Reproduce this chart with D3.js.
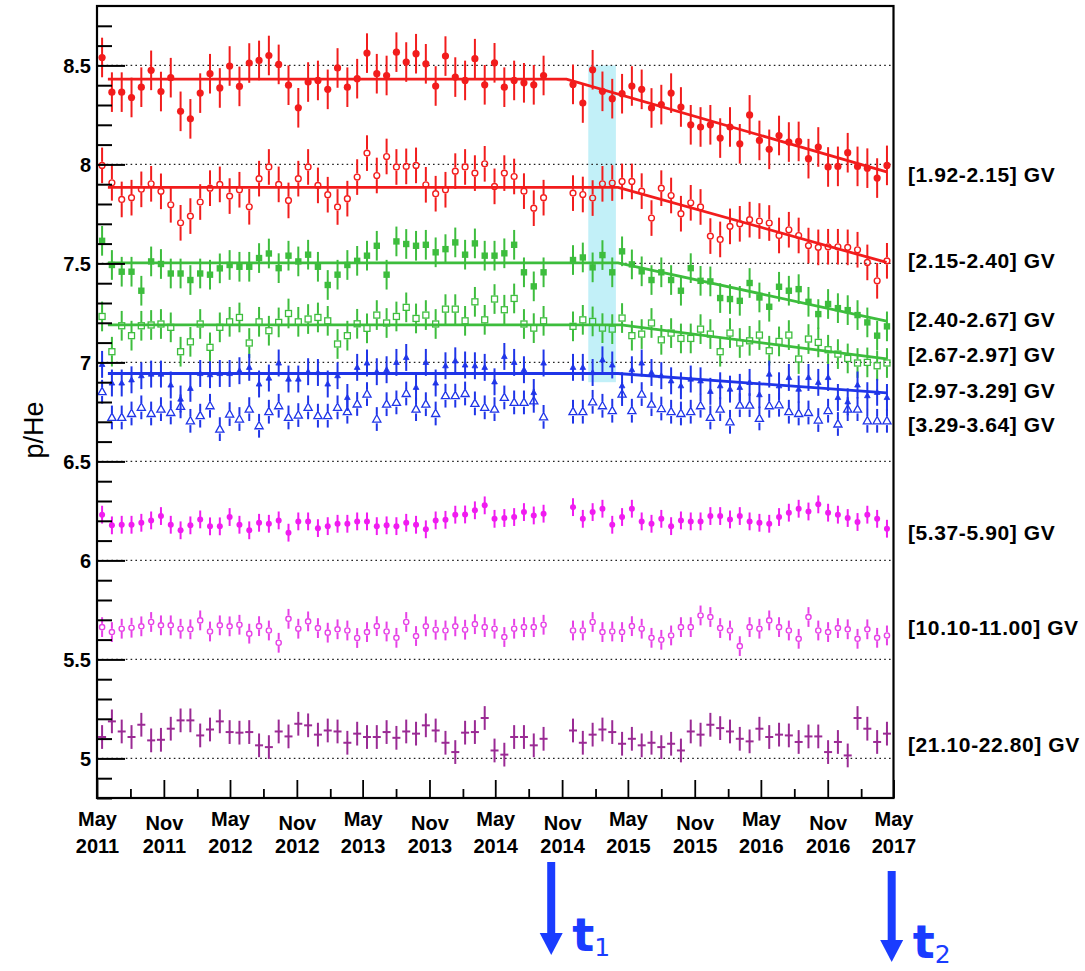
<!DOCTYPE html>
<html><head><meta charset="utf-8">
<script src="https://cdn.jsdelivr.net/npm/d3@7"></script>
<style>body{margin:0;background:#fff}svg{display:block}</style>
</head><body>
<svg id="chart" width="1085" height="971"></svg>
<script>
// ---------- DATA ----------
// Bartels rotations (BR 2472 and 2473 missing)
const rotations = [2426,2427,2428,2429,2430,2431,2432,2433,2434,2435,2436,2437,2438,2439,2440,2441,2442,2443,2444,2445,2446,2447,2448,2449,2450,2451,2452,2453,2454,2455,2456,2457,2458,2459,2460,2461,2462,2463,2464,2465,2466,2467,2468,2469,2470,2471,
2474,2475,2476,2477,2478,2479,2480,2481,2482,2483,2484,2485,2486,2487,2488,2489,2490,2491,2492,2493,2494,2495,2496,2497,2498,2499,2500,2501,2502,2503,2504,2505,2506];

const red1 = [8.54,8.365,8.365,8.338,8.39,8.475,8.368,8.438,8.268,8.23,8.36,8.458,8.386,8.497,8.394,8.512,8.525,8.55,8.505,8.40,8.286,8.416,8.424,8.379,8.487,8.39,8.433,8.562,8.458,8.449,8.567,8.517,8.559,8.508,8.396,8.547,8.441,8.424,8.534,8.402,8.513,8.39,8.424,8.412,8.402,8.449,
8.404,8.31,8.478,8.369,8.332,8.357,8.396,8.379,8.285,8.302,8.36,8.29,8.2,8.189,8.2,8.133,8.189,8.104,8.25,8.121,8.076,8.146,8.113,8.116,8.029,8.088,7.987,7.99,8.059,7.99,7.981,7.931,7.995];
const red2 = [7.995,7.907,7.823,7.832,7.874,7.902,7.864,7.796,7.705,7.739,7.81,7.88,7.899,7.84,7.872,7.786,7.928,7.987,7.899,7.818,7.928,7.987,7.894,7.847,7.785,7.827,7.936,8.057,7.944,8.04,7.987,7.99,7.995,7.897,7.852,7.872,7.966,7.987,7.956,8.003,7.889,7.956,7.939,7.865,7.779,7.832,
7.855,7.848,7.83,7.902,7.906,7.914,7.914,7.865,7.729,7.88,7.843,7.751,7.806,7.785,7.638,7.621,7.687,7.7,7.721,7.714,7.704,7.641,7.67,7.641,7.59,7.581,7.584,7.584,7.581,7.569,7.505,7.412,7.513];
const green1 = [7.614,7.492,7.458,7.458,7.362,7.51,7.497,7.449,7.449,7.416,7.449,7.443,7.475,7.492,7.483,7.483,7.527,7.55,7.476,7.539,7.51,7.544,7.483,7.391,7.443,7.492,7.513,7.539,7.589,7.443,7.611,7.598,7.589,7.594,7.556,7.572,7.606,7.544,7.601,7.539,7.539,7.551,7.594,7.455,7.384,7.455,
7.517,7.53,7.48,7.542,7.455,7.561,7.495,7.46,7.416,7.455,7.416,7.362,7.476,7.412,7.409,7.325,7.32,7.311,7.401,7.328,7.281,7.382,7.362,7.37,7.306,7.244,7.295,7.274,7.264,7.239,7.202,7.135,7.182];
const green2 = [7.232,7.054,7.185,7.135,7.185,7.189,7.194,7.177,7.054,7.104,7.194,7.076,7.177,7.205,7.227,7.098,7.205,7.16,7.202,7.247,7.205,7.219,7.227,7.21,7.093,7.135,7.195,7.172,7.239,7.199,7.232,7.278,7.222,7.239,7.194,7.269,7.269,7.21,7.306,7.215,7.32,7.266,7.323,7.194,7.173,7.21,
7.182,7.215,7.207,7.173,7.168,7.224,7.135,7.143,7.199,7.114,7.148,7.121,7.121,7.168,7.143,7.054,7.148,7.098,7.109,7.138,7.059,7.106,7.138,7.017,7.118,7.101,7.064,7.042,7.02,6.997,7.0,6.983,6.997];
const blue1 = [6.99,6.896,6.896,6.912,6.933,6.941,6.941,6.886,6.815,6.869,6.944,6.938,6.944,6.944,6.958,6.975,6.891,6.921,6.997,6.916,6.916,6.953,6.949,6.891,6.933,6.823,6.975,6.997,6.953,6.963,7.0,7.025,6.874,7.0,6.896,6.983,7.008,6.987,6.983,6.975,6.902,7.03,7.0,6.963,6.848,6.997,
6.975,6.975,6.949,7.013,6.987,6.882,6.963,6.997,6.949,6.933,6.907,6.882,6.916,6.907,6.854,6.882,6.865,6.874,6.899,6.837,6.941,6.882,6.924,6.865,6.924,6.899,6.924,6.823,6.801,6.886,6.832,6.849,6.823];
const blue2 = [6.852,6.722,6.722,6.742,6.773,6.742,6.764,6.747,6.778,6.705,6.731,6.781,6.663,6.739,6.714,6.764,6.68,6.751,6.781,6.722,6.734,6.773,6.731,6.731,6.773,6.751,6.79,6.84,6.714,6.789,6.798,6.843,6.764,6.789,6.742,6.832,6.832,6.843,6.793,6.773,6.764,6.823,6.798,6.798,6.806,6.725,
6.751,6.751,6.801,6.781,6.756,6.84,6.756,6.84,6.789,6.767,6.751,6.742,6.751,6.781,6.722,6.764,6.7,6.784,6.784,6.717,6.781,6.786,6.751,6.742,6.747,6.709,6.756,6.689,6.764,6.764,6.705,6.705,6.705];
const magenta1 = [6.231,6.177,6.18,6.18,6.19,6.202,6.224,6.18,6.152,6.177,6.207,6.172,6.172,6.219,6.18,6.152,6.19,6.185,6.202,6.14,6.197,6.197,6.163,6.173,6.185,6.185,6.197,6.197,6.173,6.177,6.173,6.19,6.18,6.157,6.202,6.205,6.231,6.232,6.253,6.278,6.21,6.214,6.219,6.244,6.227,6.236,
6.269,6.21,6.244,6.261,6.18,6.219,6.261,6.197,6.185,6.21,6.173,6.202,6.197,6.197,6.224,6.224,6.207,6.224,6.197,6.19,6.185,6.219,6.241,6.261,6.247,6.283,6.241,6.231,6.214,6.194,6.231,6.21,6.16];
const magenta2 = [5.663,5.638,5.655,5.66,5.667,5.689,5.672,5.672,5.655,5.652,5.697,5.641,5.672,5.667,5.675,5.63,5.668,5.646,5.584,5.705,5.655,5.692,5.658,5.635,5.652,5.646,5.608,5.638,5.668,5.641,5.609,5.689,5.618,5.667,5.65,5.646,5.667,5.65,5.678,5.663,5.655,5.613,5.655,5.663,5.663,5.675,
5.646,5.646,5.689,5.638,5.641,5.638,5.668,5.655,5.609,5.599,5.621,5.663,5.663,5.722,5.714,5.658,5.646,5.567,5.663,5.655,5.697,5.663,5.646,5.604,5.714,5.646,5.638,5.658,5.652,5.604,5.652,5.609,5.621];
const magenta3 = [5.108,5.187,5.136,5.108,5.17,5.091,5.094,5.15,5.192,5.192,5.116,5.146,5.187,5.133,5.13,5.133,5.066,5.057,5.136,5.111,5.175,5.167,5.12,5.141,5.136,5.079,5.125,5.108,5.108,5.133,5.104,5.136,5.125,5.167,5.141,5.079,5.032,5.13,5.133,5.204,5.04,5.019,5.108,5.108,5.066,5.099,
5.141,5.079,5.12,5.146,5.133,5.074,5.099,5.066,5.079,5.057,5.074,5.04,5.136,5.12,5.17,5.153,5.136,5.099,5.086,5.15,5.108,5.12,5.116,5.083,5.111,5.111,5.032,5.083,5.015,5.204,5.15,5.083,5.125];

// typical error (half length) of each series
const errors = [0.10, 0.09, 0.075, 0.075, 0.068, 0.06, 0.045, 0.05, 0.06];
const binLabels = ["[1.92-2.15] GV","[2.15-2.40] GV","[2.40-2.67] GV","[2.67-2.97] GV","[2.97-3.29] GV","[3.29-3.64] GV","[5.37-5.90] GV","[10.10-11.00] GV","[21.10-22.80] GV"];
const labelLevel = [7.951, 7.513, 7.219, 7.042, 6.857, 6.688, 6.141, 5.662, 5.072];

// fit: [plateau value, break date, value at fit end]
const fits = [
  [8.431, "2014-11-13", 7.962],
  [7.884, "2015-04-04", 7.505],
  [7.503, "2015-04-04", 7.208],
  [7.190, "2015-04-12", 7.018],
  [6.944, "2015-04-04", 6.846],
  null, null, null, null
];
const fitStart = "2011-05-31", fitEnd = "2017-04-12";

const yTicks = [5, 5.5, 6, 6.5, 7, 7.5, 8, 8.5];
const xTickDates = ["2011-05-01","2011-11-01","2012-05-01","2012-11-01","2013-05-01","2013-11-01","2014-05-01","2014-11-01","2015-05-01","2015-11-01","2016-05-01","2016-11-01","2017-05-01"];
const xMinorDates = ["2011-08-01","2012-02-01","2012-08-01","2013-02-01","2013-08-01","2014-02-01","2014-08-01","2015-02-01","2015-08-01","2016-02-01","2016-08-01","2017-02-01"];
const band = {from:"2015-01-12", to:"2015-03-29", low:6.9, high:8.5};
const marks = [{date:"2014-10-02", label:"t", sub:"1"}, {date:"2017-04-26", label:"t", sub:"2"}];

// ---------- STYLE ----------
const styles = [
  {color:"#f21c1c", shape:"circle", filled:true, size:3.6},
  {color:"#f21c1c", shape:"circle", filled:false, size:3.6},
  {color:"#3dbd3d", shape:"square", filled:true, size:3.2},
  {color:"#3dbd3d", shape:"square", filled:false, size:3.6},
  {color:"#1f35e8", shape:"triangle", filled:true, size:3.0},
  {color:"#1f35e8", shape:"triangle", filled:false, size:4.3},
  {color:"#f01cf0", shape:"circle", filled:true, size:3.0},
  {color:"#e641e6", shape:"circle", filled:false, size:3.3},
  {color:"#9a2a94", shape:"plus", filled:true, size:4}
];

const parse = s => new Date(s + "T00:00:00Z");
const brDate = n => new Date(Date.UTC(2011, 4, 15) + (n - 2426) * 27 * 86400000);

const svg = d3.select("#chart");
svg.append("rect").attr("width",1085).attr("height",971).attr("fill","#fff");

const L = 97, R = 893.5, T = 6, B = 798;
const x = d3.scaleUtc().domain([parse("2011-05-01"), parse("2017-05-01")]).range([L, R]);
const y = d3.scaleLinear().domain([4.8, 8.8]).range([B, T]);

const FONT = "'Liberation Sans', Arial, Helvetica, sans-serif";

// band
svg.append("rect")
  .attr("x", x(parse(band.from))).attr("width", x(parse(band.to)) - x(parse(band.from)))
  .attr("y", y(band.high)).attr("height", y(band.low) - y(band.high))
  .attr("fill", "#c2f0f8");

// dotted grid
svg.append("g").selectAll("line").data(yTicks).join("line")
  .attr("x1", L).attr("x2", R).attr("y1", d => y(d)).attr("y2", d => y(d))
  .attr("stroke", "#222").attr("stroke-width", 1.2).attr("stroke-dasharray", "1.6,3.2");

// series
const allSeries = [red1, red2, green1, green2, blue1, blue2, magenta1, magenta2, magenta3];
allSeries.forEach((vals, si) => {
  const st = styles[si];
  const g = svg.append("g");
  const pts = vals.map((v, i) => ({x: x(brDate(rotations[i])), y: y(v), lo: y(v - errors[si]), hi: y(v + errors[si])}));
  const gap = st.filled ? 0 : st.size;
  g.selectAll("line.e1").data(pts).join("line")
    .attr("x1", d => d.x).attr("x2", d => d.x)
    .attr("y1", d => d.hi).attr("y2", d => d.y - gap)
    .attr("stroke", st.color).attr("stroke-width", 2);
  g.selectAll("line.e2").data(pts).join("line")
    .attr("x1", d => d.x).attr("x2", d => d.x)
    .attr("y1", d => d.y + gap).attr("y2", d => d.lo)
    .attr("stroke", st.color).attr("stroke-width", 2);
  const fill = st.filled ? st.color : "none";
  if (st.shape === "circle") {
    g.selectAll("circle").data(pts).join("circle")
      .attr("cx", d => d.x).attr("cy", d => d.y).attr("r", st.filled ? st.size : st.size - 0.7)
      .attr("fill", fill).attr("stroke", st.filled ? "none" : st.color).attr("stroke-width", 1.4);
  } else if (st.shape === "square") {
    const s = st.size;
    g.selectAll("rect").data(pts).join("rect")
      .attr("x", d => d.x - s + (st.filled?0:0.6)).attr("y", d => d.y - s + (st.filled?0:0.6))
      .attr("width", st.filled ? 2*s : 2*s - 1.2).attr("height", st.filled ? 2*s : 2*s - 1.2)
      .attr("fill", fill).attr("stroke", st.filled ? "none" : st.color).attr("stroke-width", 1.3);
  } else if (st.shape === "triangle") {
    const s = st.size;
    g.selectAll("path").data(pts).join("path")
      .attr("d", d => `M${d.x},${d.y - s}L${d.x + s*0.95},${d.y + s*0.7}L${d.x - s*0.95},${d.y + s*0.7}Z`)
      .attr("fill", fill).attr("stroke", st.color).attr("stroke-width", st.filled ? 0.8 : 1.3);
  } else if (st.shape === "plus") {
    g.selectAll("line.h").data(pts).join("line")
      .attr("x1", d => d.x - st.size).attr("x2", d => d.x + st.size)
      .attr("y1", d => d.y).attr("y2", d => d.y)
      .attr("stroke", st.color).attr("stroke-width", 2);
  }
});

// fit lines
const line = d3.line().x(d => x(d[0])).y(d => y(d[1]));
fits.forEach((f, si) => {
  if (!f) return;
  const pts = [[parse(fitStart), f[0]], [parse(f[1]), f[0]], [parse(fitEnd), f[2]]];
  svg.append("path").attr("d", line(pts)).attr("fill", "none")
    .attr("stroke", styles[si].color).attr("stroke-width", 2.8);
});

// Y axis
const yMinor = d3.range(48, 88).map(k => k / 10).filter(v => !yTicks.some(t => Math.abs(t - v) < 1e-6));
const gyMinor = svg.append("g").attr("transform", `translate(${L},0)`)
  .call(d3.axisLeft(y).tickValues(yMinor).tickSize(-15).tickFormat(""));
const gy = svg.append("g").attr("transform", `translate(${L},0)`)
  .call(d3.axisLeft(y).tickValues(yTicks).tickSize(-28).tickPadding(6).tickFormat(d => d3.format("")(d)));
[gy, gyMinor].forEach(g => { g.select(".domain").remove(); g.selectAll("line").attr("stroke", "#000").attr("stroke-width", 2); });
gy.selectAll("text").attr("font-family", FONT).attr("font-weight", "bold").attr("font-size", 20).attr("fill", "#000").attr("dy", "0.36em");

// X axis
const gxMinor = svg.append("g").attr("transform", `translate(0,${B})`)
  .call(d3.axisBottom(x).tickValues(xMinorDates.map(parse)).tickSize(-9).tickFormat(""));
const gx = svg.append("g").attr("transform", `translate(0,${B})`)
  .call(d3.axisBottom(x).tickValues(xTickDates.map(parse)).tickSize(-18).tickFormat(""));
[gx, gxMinor].forEach(g => { g.select(".domain").remove(); g.selectAll("line").attr("stroke", "#000").attr("stroke-width", 1.8); });
const monthName = d3.utcFormat("%b"), yearName = d3.utcFormat("%Y");
gx.selectAll(".tick").append("text").attr("font-family", FONT).attr("font-weight", "bold").attr("font-size", 20)
  .attr("fill", "#000").attr("text-anchor", "middle")
  .attr("y", d => monthName(d) === "May" ? 28 : 31.5).text(d => monthName(d));
gx.selectAll(".tick").append("text").attr("font-family", FONT).attr("font-weight", "bold").attr("font-size", 20)
  .attr("fill", "#000").attr("text-anchor", "middle").attr("y", 54.5).text(d => yearName(d));

// frame
svg.append("rect").attr("x", L).attr("y", T).attr("width", R - L).attr("height", B - T)
  .attr("fill", "none").attr("stroke", "#000").attr("stroke-width", 2.2);

// y title
svg.append("text").attr("transform", `translate(43,430) rotate(-90)`).attr("text-anchor", "middle")
  .attr("font-family", FONT).attr("font-size", 27).attr("fill", "#000").text("p/He");

// right labels
svg.append("g").selectAll("text").data(binLabels).join("text")
  .attr("x", 908).attr("y", (d, i) => y(labelLevel[i])).attr("dy", "0.36em")
  .attr("font-family", FONT).attr("font-weight", "bold").attr("font-size", 21).attr("letter-spacing", 0.6).attr("fill", "#000")
  .text(d => d);

// time marks (arrows)
const blue = "#1a3cff";
const markLayout = [{top: 862, tip: 955}, {top: 871, tip: 962}];
marks.forEach((m, i) => {
  const cx = x(parse(m.date)), lay = markLayout[i];
  const g = svg.append("g");
  g.append("rect").attr("x", cx - 4).attr("y", lay.top).attr("width", 8).attr("height", lay.tip - 22 - lay.top + 1).attr("fill", blue);
  g.append("path").attr("d", `M${cx - 11.5},${lay.tip - 22}L${cx + 11.5},${lay.tip - 22}L${cx},${lay.tip}Z`).attr("fill", blue);
  g.append("text").attr("x", cx + 21).attr("y", lay.tip - 4).attr("fill", blue)
    .attr("font-family", "'DejaVu Sans', sans-serif").attr("font-weight", "bold").attr("font-size", 46).text(m.label);
  g.append("text").attr("x", cx + 43).attr("y", lay.tip + 1).attr("fill", blue)
    .attr("font-family", "'DejaVu Sans', sans-serif").attr("font-size", 25).text(m.sub);
});
</script>
</body></html>
